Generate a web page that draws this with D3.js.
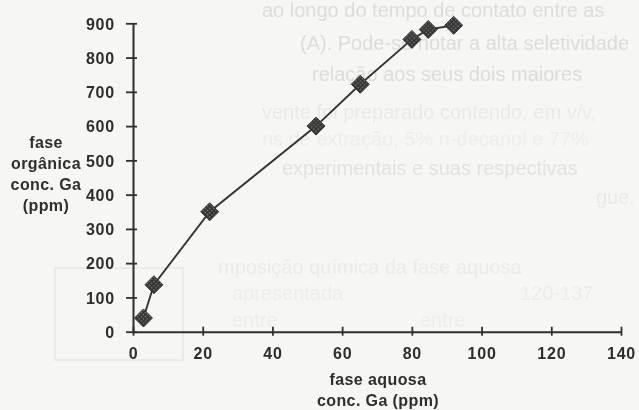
<!DOCTYPE html>
<html>
<head>
<meta charset="utf-8">
<script src="https://cdn.jsdelivr.net/npm/d3@7"></script>
<style>
  html, body { margin: 0; padding: 0; background: #f6f6f4; }
  svg { display: block; }
</style>
</head>
<body>
<svg id="chart" width="639" height="410"></svg>
<script>
// Isoterma de extração do gálio: fase aquosa vs fase orgânica (ppm)
const aquosaGa   = [3, 6, 22, 52.5, 65.2, 80, 84.7, 92];
const organicaGa = [40, 137, 350, 600, 722, 853, 882, 894];
const xTicks = [0, 20, 40, 60, 80, 100, 120, 140];
const yTicks = [0, 100, 200, 300, 400, 500, 600, 700, 800, 900];
const yLabelLines = ["fase", "orgânica", "conc. Ga", "(ppm)"];
const xLabelLines = ["fase aquosa", "conc. Ga (ppm)"];

// texto do verso da folha, visível por transparência
const versoLines = [
  {t: "ao longo do tempo de contato entre as", x: 262, y: 17, o: 0.7},
  {t: "(A). Pode-se notar a alta seletividade", x: 300, y: 50, o: 0.7},
  {t: "relação aos seus dois maiores", x: 312, y: 81, o: 0.7},
  {t: "vente foi preparado contendo, em v/v,", x: 262, y: 119, o: 0.35},
  {t: "ns de extração, 5% n-decanol e 77%", x: 262, y: 146, o: 0.25},
  {t: "experimentais e suas respectivas", x: 282, y: 175, o: 0.55},
  {t: "gue.", x: 596, y: 204, o: 0.35},
  {t: "mposição química da fase aquosa", x: 218, y: 274, o: 0.3},
  {t: "apresentada", x: 232, y: 300, o: 0.25},
  {t: "120-137", x: 520, y: 300, o: 0.25},
  {t: "entre", x: 232, y: 327, o: 0.25},
  {t: "entre", x: 420, y: 327, o: 0.25}
];

const svg = d3.select("#chart");
const W = 639, H = 410;
const ink = "#2e2e2e";
const font = "'Liberation Sans', Arial, sans-serif";

svg.append("rect").attr("width", W).attr("height", H).attr("fill", "#f6f6f4");

const defs = svg.append("defs");
defs.append("filter").attr("id", "soft")
  .append("feGaussianBlur").attr("stdDeviation", 0.7);
defs.append("filter").attr("id", "ink")
  .append("feGaussianBlur").attr("stdDeviation", 0.35);

// trama quadriculada dos marcadores
const pat = defs.append("pattern").attr("id", "checker")
  .attr("width", 3).attr("height", 3).attr("patternUnits", "userSpaceOnUse")
  .attr("patternTransform", "rotate(45)");
pat.append("rect").attr("width", 3).attr("height", 3).attr("fill", "#353535");
pat.append("rect").attr("x", 0).attr("y", 0).attr("width", 1.2).attr("height", 1.2).attr("fill", "#8a8a8a");

const verso = svg.append("g").attr("filter", "url(#soft)")
  .attr("font-family", font).attr("font-size", 20).attr("fill", "#d2d2d2");
verso.selectAll("text").data(versoLines).join("text")
  .attr("x", d => d.x).attr("y", d => d.y).attr("opacity", d => d.o)
  .text(d => d.t);
// moldura clara da legenda do verso
verso.append("rect").attr("x", 55).attr("y", 268).attr("width", 128).attr("height", 92)
  .attr("fill", "none").attr("stroke", "#d4d4d4").attr("stroke-width", 1.5).attr("opacity", 0.45);

const x = d3.scaleLinear().domain([0, 140]).range([133, 621]);
const y = d3.scaleLinear().domain([0, 900]).range([331.7, 23.3]);

const chart = svg.append("g").attr("filter", "url(#ink)");

// eixo x
const gx = chart.append("g").attr("transform", `translate(0,${y(0)})`)
  .call(d3.axisBottom(x).tickValues(xTicks).tickSize(0).tickPadding(0).tickSizeOuter(0));
gx.select(".domain").attr("stroke", ink).attr("stroke-width", 2);
gx.selectAll(".tick").append("line").attr("y1", -5).attr("y2", 4)
  .attr("stroke", ink).attr("stroke-width", 1.8);
gx.selectAll(".tick text").attr("y", 27).attr("dy", 0)
  .attr("font-family", font).attr("font-weight", "bold").attr("font-size", 16)
  .attr("letter-spacing", 0.8).attr("fill", ink);

// eixo y
const gy = chart.append("g").attr("transform", `translate(${x(0)},0)`)
  .call(d3.axisLeft(y).tickValues(yTicks).tickSize(0).tickPadding(0).tickSizeOuter(0));
gy.select(".domain").attr("stroke", ink).attr("stroke-width", 2);
gy.selectAll(".tick").append("line").attr("x1", -7).attr("x2", 4)
  .attr("stroke", ink).attr("stroke-width", 1.8);
gy.selectAll(".tick text").attr("x", -18).attr("dy", "0.36em")
  .attr("font-family", font).attr("font-weight", "bold").attr("font-size", 16)
  .attr("letter-spacing", 0.8).attr("fill", ink);

// títulos dos eixos
chart.append("g").selectAll("text").data(yLabelLines).join("text")
  .attr("x", 46).attr("y", (d, i) => 148 + i * 21)
  .attr("text-anchor", "middle")
  .attr("font-family", font).attr("font-weight", "bold").attr("font-size", 16)
  .attr("letter-spacing", 0.4).attr("fill", ink).text(d => d);

chart.append("g").selectAll("text").data(xLabelLines).join("text")
  .attr("x", 378).attr("y", (d, i) => 385 + i * 21)
  .attr("text-anchor", "middle")
  .attr("font-family", font).attr("font-weight", "bold").attr("font-size", 16)
  .attr("letter-spacing", 0.4).attr("fill", ink).text(d => d);

// curva e pontos
const pts = aquosaGa.map((v, i) => [v, organicaGa[i]]);
chart.append("path").datum(pts)
  .attr("d", d3.line().x(d => x(d[0])).y(d => y(d[1])))
  .attr("fill", "none").attr("stroke", "#333").attr("stroke-width", 1.9);

const r = 9;
chart.append("g").selectAll("path").data(pts).join("path")
  .attr("transform", d => `translate(${x(d[0])},${y(d[1])})`)
  .attr("d", `M0,${-r} Q3,${-r + 3} ${r},0 Q${r - 3},3 0,${r} Q-3,${r - 3} ${-r},0 Q${-r + 3},-3 0,${-r}Z`)
  .attr("fill", "url(#checker)").attr("stroke", "#333").attr("stroke-width", 1);
</script>
</body>
</html>
